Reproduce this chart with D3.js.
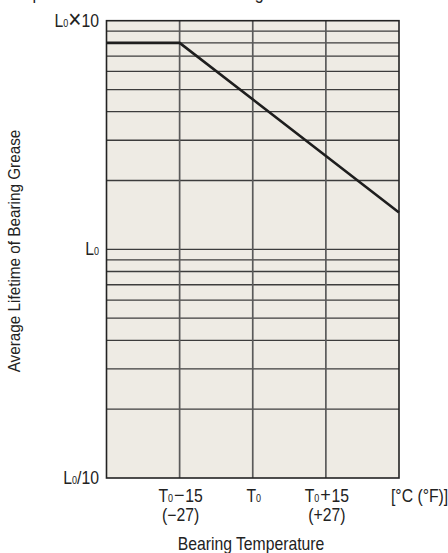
<!DOCTYPE html>
<html>
<head>
<meta charset="utf-8">
<script src="https://cdn.jsdelivr.net/npm/d3@7"></script>
<style>
  body { margin: 0; background: #fff; }
  svg { display: block; font-family: "Liberation Sans", Arial, sans-serif; }
</style>
</head>
<body>
<svg id="chart" width="448" height="553"></svg>
<script>
// temperature offsets from T0 (deg C) for the grid columns
var tempGrid = [-30, -15, 0, 15, 30];
// bottom labels, line 1 and line 2
var tempLabels = [
    { t: -15, op: "\u2212", num: "15", sub: "(\u221227)" },
    { t: 0, op: "", num: "", sub: "" },
    { t: 15, op: "+", num: "15", sub: "(+27)" }
];
// lifetime axis, in multiples of L0
var lifeLabels = [
    { v: 10, op: "\u00d7", num: "10" },
    { v: 1, op: "", num: "" },
    { v: 0.1, op: "/", num: "10" }
];
// the grease lifetime curve
var lineTemps = [-30, -15, 30];
var lineLife = [8, 8, 1.45];

var margin = { top: 20.7, right: 49, bottom: 75, left: 106.5 };
var W = 448, H = 553;
var NARROW = 0.9; // fake a condensed face
var svg = d3.select('#chart');

// clipped title at the very top
svg.append('text')
    .attr('transform', 'translate(2,-1) scale(' + NARROW + ',1)')
    .attr('font-size', '18px')
    .attr('fill', '#222')
    .text('Temperature and Lifetime of Bearing');

var x = d3.scaleLinear().domain([-30, 30]).range([margin.left, W - margin.right]);
var y = d3.scaleLog().domain([0.1, 10]).range([H - margin.bottom, margin.top]);

var g = svg.append('g');

g.append('rect')
    .attr('x', x(-30))
    .attr('y', y(10))
    .attr('width', x(30) - x(-30))
    .attr('height', y(0.1) - y(10))
    .attr('fill', '#eeebe4');

// horizontal log grid
g.selectAll('.hgrid')
    .data(y.ticks().filter(d => d > 0.1 && d < 10))
    .enter()
    .append('line')
    .attr('class', 'hgrid')
    .attr('x1', x(-30))
    .attr('x2', x(30))
    .attr('y1', d => y(d))
    .attr('y2', d => y(d))
    .attr('stroke', '#3c3c3c')
    .attr('stroke-width', 1.3);

// vertical grid
g.selectAll('.vgrid')
    .data(tempGrid.slice(1, -1))
    .enter()
    .append('line')
    .attr('class', 'vgrid')
    .attr('x1', d => x(d))
    .attr('x2', d => x(d))
    .attr('y1', y(10))
    .attr('y2', y(0.1))
    .attr('stroke', '#5a5a5a')
    .attr('stroke-width', 1.7);

// frame
g.append('rect')
    .attr('x', x(-30))
    .attr('y', y(10))
    .attr('width', x(30) - x(-30))
    .attr('height', y(0.1) - y(10))
    .attr('fill', 'none')
    .attr('stroke', '#222')
    .attr('stroke-width', 1.6);

// lifetime line
var pts = lineTemps.map((t, i) => [t, lineLife[i]]);
g.append('path')
    .datum(pts)
    .attr('fill', 'none')
    .attr('stroke', '#1e1e1e')
    .attr('stroke-width', 2.6)
    .attr('d', d3.line().x(d => x(d[0])).y(d => y(d[1])));

// y labels (L0 x10, L0, L0/10)
var yl = svg.selectAll('.ylab')
    .data(lifeLabels)
    .enter()
    .append('text')
    .attr('class', 'ylab')
    .attr('transform', d => 'translate(99,' + (y(d.v) + 6) + ') scale(' + NARROW + ',1)')
    .attr('text-anchor', 'end')
    .attr('font-size', '17.5px')
    .attr('fill', '#222');
yl.append('tspan').text('L');
yl.append('tspan').attr('font-size', '10px').text('0');
yl.append('tspan')
    .attr('font-size', d => d.op === '\u00d7' ? '25px' : '17.5px')
    .attr('dy', d => d.op === '\u00d7' ? 1.5 : 0)
    .text(d => d.op);
yl.append('tspan')
    .attr('dy', d => d.op === '\u00d7' ? -1.5 : 0)
    .text(d => d.num);

// x labels
var xl = svg.selectAll('.xlab')
    .data(tempLabels)
    .enter()
    .append('text')
    .attr('class', 'xlab')
    .attr('transform', d => 'translate(' + (x(d.t) + 1) + ',502) scale(' + NARROW + ',1)')
    .attr('text-anchor', 'middle')
    .attr('font-size', '17.5px')
    .attr('fill', '#222');
xl.append('tspan').text('T');
xl.append('tspan').attr('font-size', '10px').text('0');
xl.append('tspan').attr('font-size', '20px').attr('dx', d => d.op ? 1 : 0).text(d => d.op);
xl.append('tspan').attr('dx', d => d.op ? 1 : 0).text(d => d.num);

svg.selectAll('.xsub')
    .data(tempLabels.filter(d => d.sub))
    .enter()
    .append('text')
    .attr('class', 'xsub')
    .attr('transform', d => 'translate(' + (x(d.t) + 1) + ',521) scale(' + NARROW + ',1)')
    .attr('text-anchor', 'middle')
    .attr('font-size', '17.5px')
    .attr('fill', '#222')
    .text(d => d.sub);

svg.append('text')
    .attr('transform', 'translate(391,502) scale(' + NARROW + ',1)')
    .attr('font-size', '17.5px')
    .attr('fill', '#222')
    .text('[\u00b0C (\u00b0F)]');

// axis titles
svg.append('text')
    .attr('transform', 'translate(251,550) scale(' + NARROW + ',1)')
    .attr('text-anchor', 'middle')
    .attr('font-size', '17.5px')
    .attr('fill', '#222')
    .text('Bearing Temperature');

svg.append('text')
    .attr('transform', 'translate(20,251) rotate(-90) scale(0.9,1)')
    .attr('text-anchor', 'middle')
    .attr('font-size', '17px')
    .attr('fill', '#222')
    .text('Average Lifetime of Bearing Grease');
</script>
</body>
</html>
